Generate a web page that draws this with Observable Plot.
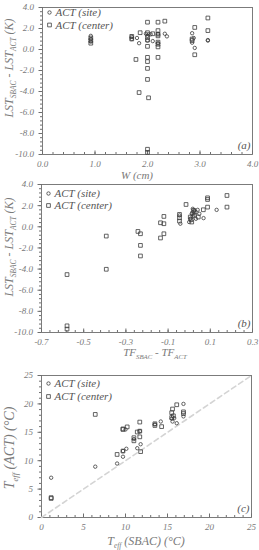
<!DOCTYPE html>
<html><head><meta charset="utf-8">
<script src="https://cdn.jsdelivr.net/npm/d3@7"></script>
<script src="https://cdn.jsdelivr.net/npm/@observablehq/plot@0.6"></script>
<style>body{margin:0;background:#fff}#c svg{display:block}</style>
</head><body><div id="c"></div>
<script>
// ---------- Panel (a): W (cm) vs LST_SBAC - LST_ACT (K)
const aSite = [[0.92,1.3],[0.92,1.0],[0.92,0.75],[1.7,1.2],[1.7,1.0],[1.8,1.1],[1.84,0.6],[1.97,1.5],[2.0,1.3],[2.02,1.45],[2.0,0.85],[2.06,1.45],[2.1,0.8],[2.2,1.5],[2.2,0.6],[2.33,1.5],[2.37,1.25],[2.85,1.55],[2.85,0.65],[2.9,0.15],[2.88,1.1],[3.15,0.9],[3.15,0.85]];
const aCenter = [[0.92,1.1],[0.92,0.85],[0.92,0.6],[1.7,1.25],[1.7,1.0],[1.78,-0.95],[1.84,-4.1],[1.86,1.6],[2.0,2.6],[2.0,1.6],[2.0,1.15],[2.0,0.9],[2.0,0.3],[2.0,-0.75],[2.0,-1.15],[2.0,-1.8],[2.0,-2.85],[2.02,-4.6],[2.0,-9.5],[2.0,-9.8],[2.1,1.5],[2.2,2.6],[2.2,1.8],[2.2,1.45],[2.2,1.3],[2.2,0.7],[2.2,0.5],[2.2,0.25],[2.2,-0.75],[2.33,2.7],[2.85,1.0],[2.85,0.85],[2.9,2.1],[2.9,-0.5],[3.15,3.0],[3.15,1.8]];
const aXTicks = [0,1,2,3,4];
const aYTicks = [4,2,0,-2,-4,-6,-8,-10];

// ---------- Panel (b): TF_SBAC - TF_ACT vs LST_SBAC - LST_ACT (K)
const bSite = [[-0.046,1.07],[-0.042,0.29],[0.0,0.45],[0.005,0.76],[0.012,1.23],[0.017,0.98],[0.032,0.76],[0.024,1.55],[0.040,1.6],[0.048,1.23],[0.068,0.82],[0.13,1.6],[0.017,1.7]];
const bCenter = [[-0.579,-4.52],[-0.579,-9.37],[-0.579,-9.68],[-0.393,-0.88],[-0.393,-4.02],[-0.243,-0.44],[-0.231,-0.66],[-0.231,-1.76],[-0.231,-2.76],[-0.136,0.38],[-0.136,-1.06],[-0.12,0.98],[-0.12,0.29],[-0.12,-0.66],[-0.046,1.17],[-0.046,0.85],[-0.046,0.54],[-0.015,2.11],[0.005,0.92],[0.009,0.67],[0.017,1.3],[0.021,1.55],[0.024,1.1],[0.028,1.39],[0.012,0.45],[0.043,0.92],[0.067,1.61],[0.087,2.74],[0.087,2.58],[0.087,1.86],[0.179,2.96],[0.179,1.86]];
const bXTicks = [-0.7,-0.5,-0.3,-0.1,0.1,0.3];
const bYTicks = [4,2,0,-2,-4,-6,-8,-10];

// ---------- Panel (c): T_eff (SBAC) vs T_eff (ACT) (°C)
const cSite = [[1.15,7.0],[6.4,8.95],[9.0,9.5],[9.7,10.7],[10.1,12.1],[11.4,12.2],[11.8,12.9],[11.7,15.2],[9.7,11.7],[13.5,16.4],[14.2,16.9],[15.5,17.4],[15.6,16.9],[16.1,16.6],[16.9,20.0],[16.9,17.8],[15.8,17.5],[11.0,13.8],[10.0,15.5]];
const cCenter = [[1.15,3.35],[1.15,3.5],[6.4,18.15],[9.0,11.1],[9.7,11.7],[9.7,15.5],[9.7,15.6],[10.2,15.95],[11.0,14.05],[11.0,13.5],[11.4,15.05],[11.7,16.8],[11.7,14.2],[11.8,11.6],[13.5,16.5],[13.5,16.2],[14.3,16.0],[15.5,18.45],[15.5,17.6],[15.6,19.1],[16.1,19.85],[15.7,17.9],[16.9,18.6],[16.9,18.3],[11.7,15.2]];
const cXTicks = [0,5,10,15,20,25];
const cYTicks = [0,5,10,15,20,25];
const cIdentity = [0,25];

const legendNames = ["ACT (site)","ACT (center)"];

const FONT = "Liberation Serif";
const TXT = "#7a7a7a";
const AX = "#6e6e6e";
const PT = "#3c3c3c";

function minorTicks(domain, step){
  const n = Math.round((domain[1]-domain[0])/step);
  return d3.range(n+1).map(i => +(domain[0] + i*step).toFixed(6));
}

function addLabel(svg, x, y, parts, size, rotate){
  const t = d3.select(svg).append("text")
    .attr("transform", `translate(${x},${y})` + (rotate ? " rotate(-90)" : ""))
    .attr("text-anchor","middle")
    .attr("font-family", FONT).attr("font-style","italic")
    .attr("font-size", size).attr("fill", TXT);
  let shifted = false;
  for (const [s, sub] of parts){
    const ts = t.append("tspan").text(s);
    if (sub){ ts.attr("font-size", size*0.62).attr("dy", size*0.28); shifted = true; }
    else if (shifted){ ts.attr("dy", -size*0.28); shifted = false; }
  }
}

function panel(o){
  const marks = [
    Plot.frame({stroke: AX, strokeWidth: 0.9}),
    Plot.axisX(minorTicks(o.xd, o.xMinor), {tickSize: -2, text: null, stroke: AX}),
    Plot.axisX(o.xTicks, {tickSize: -3.5, tickPadding: 10, stroke: AX, fill: TXT, fontSize: 9, tickFormat: o.xFmt}),
    Plot.axisY(minorTicks(o.yd, o.yMinor), {tickSize: 2, text: null, stroke: AX}),
    Plot.axisY(o.yTicks, {tickSize: 3.5, tickPadding: 5, stroke: AX, fill: TXT, fontSize: 9, tickFormat: o.yFmt}),
  ];
  if (o.identity) marks.push(Plot.line(o.identity, {x: d=>d, y: d=>d, stroke: "#d4d4d4", strokeWidth: 1.6, strokeDasharray: "5,3.5"}));
  marks.push(
    Plot.dot(o.site, {x: d=>d[0], y: d=>d[1], r: 1.7, symbol: "circle", stroke: PT, strokeWidth: 0.8, fill: "none"}),
    Plot.dot(o.center, {x: d=>d[0], y: d=>d[1], r: 2.1, symbol: "square", stroke: PT, strokeWidth: 0.8, fill: "none"}),
    Plot.dot([legendNames[0]], {frameAnchor: "top-left", dx: 7, dy: o.legDy[0], r: 1.7, symbol: "circle", stroke: PT, strokeWidth: 0.8, fill: "none"}),
    Plot.dot([legendNames[1]], {frameAnchor: "top-left", dx: 7, dy: o.legDy[1], r: 2.1, symbol: "square", stroke: PT, strokeWidth: 0.8, fill: "none"}),
    Plot.text([legendNames[0]], {text: d=>d, frameAnchor: "top-left", dx: 13, dy: o.legDy[0], textAnchor: "start", lineAnchor: "middle", fontSize: 11, fill: "#555"}),
    Plot.text([legendNames[1]], {text: d=>d, frameAnchor: "top-left", dx: 13, dy: o.legDy[1], textAnchor: "start", lineAnchor: "middle", fontSize: 11, fill: "#555"}),
    Plot.text([o.tag], {text: d=>d, frameAnchor: "bottom-right", dx: -2, dy: -9, textAnchor: "end", lineAnchor: "middle", fontSize: 11, fill: "#555"})
  );
  const svg = Plot.plot({
    width: 259, height: o.height,
    marginLeft: o.ml, marginRight: o.mr, marginTop: o.mt, marginBottom: o.mb,
    x: {domain: o.xd, label: null, axis: null},
    y: {domain: o.yd, label: null, axis: null},
    style: {fontFamily: FONT, fontStyle: "italic", color: TXT, background: "white", overflow: "visible"},
    marks
  });
  addLabel(svg, o.xl[0], o.xl[1], o.xlabel, o.xlSize, false);
  addLabel(svg, o.yl[0], o.yl[1], o.ylabel, o.ylSize, true);
  return svg;
}

const f1 = d => d.toFixed(1);
const f0 = d => d.toFixed(0);
const lstLabel = [["LST",false],["SBAC",true],[" - LST",false],["ACT",true],[" (K)",false]];

const root = document.getElementById("c");
root.appendChild(panel({
  height: 180, ml: 42, mr: 7, mt: 7, mb: 26,
  xd: [0,4], yd: [-10,4], xMinor: 0.2, yMinor: 0.4,
  xTicks: aXTicks, yTicks: aYTicks, xFmt: f1, yFmt: f1,
  site: aSite, center: aCenter, legDy: [5, 17.5], tag: "(a)",
  xlabel: [["W (cm)",false]], xl: [137, 179], xlSize: 11,
  ylabel: lstLabel, yl: [13, 68], ylSize: 12
}));
root.appendChild(panel({
  height: 180, ml: 41, mr: 7, mt: 4, mb: 28,
  xd: [-0.7,0.3], yd: [-10,4], xMinor: 0.04, yMinor: 0.4,
  xTicks: bXTicks, yTicks: bYTicks, xFmt: f1, yFmt: f1,
  site: bSite, center: bCenter, legDy: [9, 21], tag: "(b)",
  xlabel: [["TF",false],["SBAC",true],[" - TF",false],["ACT",true]], xl: [155, 176], xlSize: 11,
  ylabel: lstLabel, yl: [13, 67], ylSize: 12
}));
root.appendChild(panel({
  height: 190, ml: 41, mr: 8, mt: 15, mb: 33,
  xd: [0,25], yd: [0,25], xMinor: 1, yMinor: 1,
  xTicks: cXTicks, yTicks: cYTicks, xFmt: f0, yFmt: f0,
  site: cSite, center: cCenter, identity: cIdentity, legDy: [8, 21], tag: "(c)",
  xlabel: [["T",false],["eff",true],[" (SBAC) (°C)",false]], xl: [146, 185], xlSize: 12,
  ylabel: [["T",false],["eff",true],[" (ACT) (°C)",false]], yl: [14, 88], ylSize: 14
}));
</script>
</body></html>
